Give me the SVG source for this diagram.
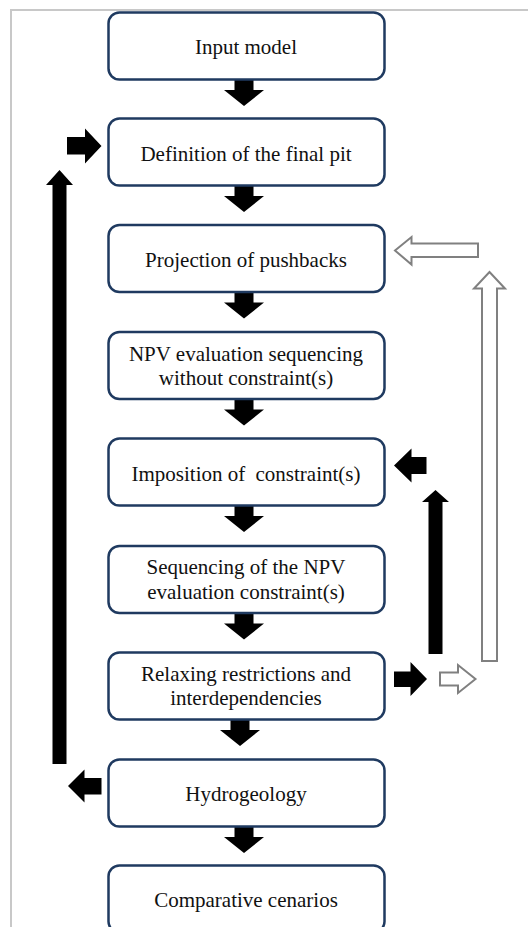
<svg xmlns="http://www.w3.org/2000/svg" xmlns:xlink="http://www.w3.org/1999/xlink" width="528" height="927" viewBox="0 0 528 927">
<style>
.frame{fill:none;stroke:#c8c8c8;stroke-width:2}
.box{fill:#ffffff;stroke:#1f3a60;stroke-width:2.5}
.lbl{font-family:"Liberation Serif","Times New Roman","DejaVu Serif",serif;font-size:21px;fill:#111111;text-anchor:middle}
.blk{fill:#000000}
.hol{fill:#ffffff;stroke:#808080;stroke-width:2;stroke-linejoin:miter}
</style>
<defs>
<path id="down" d="M-9.5,0 H9.5 V12 H20 L0,28 L-20,12 H-9.5 Z"/>
</defs>
<rect width="528" height="927" fill="#ffffff"/>
<path class="frame" d="M11,927 V10 H528"/>
<g id="connectors">
<use xlink:href="#down" class="blk" transform="translate(244,78)"/>
<use xlink:href="#down" class="blk" transform="translate(244,184)"/>
<use xlink:href="#down" class="blk" transform="translate(244,290.5)"/>
<use xlink:href="#down" class="blk" transform="translate(244,397.5)"/>
<use xlink:href="#down" class="blk" transform="translate(244,504)"/>
<use xlink:href="#down" class="blk" transform="translate(244,611.5)"/>
<use xlink:href="#down" class="blk" transform="translate(240,718)"/>
<use xlink:href="#down" class="blk" transform="translate(244,825)"/>
<path class="blk" d="M59.5,170 L73,185 H66.5 V764 H52.5 V185 H46 Z"/>
<path class="blk" d="M67,137 H85 V128.5 L101.5,146 L85,163.5 V154.5 H67 Z"/>
<path class="blk" d="M68,786 L84.5,769.5 V778 H101.5 V794.5 H84.5 V802.5 Z"/>
<path class="hol" d="M395,250.5 L411.5,237 V243.5 H478 V257 H411.5 V264.5 Z"/>
<path class="hol" d="M489.5,272 L505,288.5 H497 V661 H482 V288.5 H474 Z"/>
<path class="blk" d="M394,465.5 L411.5,448.5 V457 H426.5 V474 H411.5 V482.5 Z"/>
<path class="blk" d="M435.5,490 L449,502 H442.5 V654 H428.5 V502 H422 Z"/>
<path class="blk" d="M394,671.5 H410.5 V662 L427,679 L410.5,696 V687 H394 Z"/>
<path class="hol" d="M440,672.5 H458 V665 L475.5,679 L458,693 V685.5 H440 Z"/>
</g>
<g id="n1"><rect class="box" x="108.5" y="12.5" width="276" height="67" rx="11"/><text class="lbl" x="246" y="54">Input model</text></g>
<g id="n2"><rect class="box" x="108.5" y="118.5" width="276" height="67" rx="11"/><text class="lbl" x="246" y="161">Definition of the final pit</text></g>
<g id="n3"><rect class="box" x="108.5" y="225" width="276" height="67" rx="11"/><text class="lbl" x="246" y="267">Projection of pushbacks</text></g>
<g id="n4"><rect class="box" x="108.5" y="332" width="276" height="67" rx="11"/><text class="lbl" x="246" y="361">NPV evaluation sequencing</text><text class="lbl" x="246" y="385">without constraint(s)</text></g>
<g id="n5"><rect class="box" x="108.5" y="438.5" width="276" height="67" rx="11"/><text class="lbl" x="246" y="481">Imposition of <tspan dx="5">constraint(s)</tspan></text></g>
<g id="n6"><rect class="box" x="108.5" y="546" width="276" height="67" rx="11"/><text class="lbl" x="246" y="574">Sequencing of the NPV</text><text class="lbl" x="246" y="599">evaluation constraint(s)</text></g>
<g id="n7"><rect class="box" x="108.5" y="652.5" width="276" height="67" rx="11"/><text class="lbl" x="246" y="681">Relaxing restrictions and</text><text class="lbl" x="246" y="705">interdependencies</text></g>
<g id="n8"><rect class="box" x="108.5" y="759.5" width="276" height="67" rx="11"/><text class="lbl" x="246" y="801">Hydrogeology</text></g>
<g id="n9"><rect class="box" x="108.5" y="865.5" width="276" height="67" rx="11"/><text class="lbl" x="246" y="907">Comparative cenarios</text></g>
</svg>
